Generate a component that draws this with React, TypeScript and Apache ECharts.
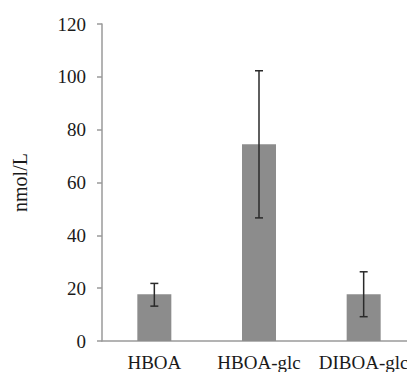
import React, { useEffect, useRef } from "react";
import * as echarts from "echarts";

const categories = ["HBOA", "HBOA-glc", "DIBOA-glc"];
const means = [17.7, 74.5, 17.7];
const errLow = [13.2, 46.6, 9.2];
const errHigh = [21.8, 102.3, 26.2];
const yTicks = { min: 0, max: 120, interval: 20 };

export default function App() {
  const ref = useRef<HTMLDivElement>(null);
  useEffect(() => {
    if (!ref.current) return;
    const chart = echarts.init(ref.current, null, { renderer: "svg" });
    const font = "'Liberation Serif', 'Times New Roman', serif";
    chart.setOption({
      animation: false,
      backgroundColor: "#ffffff",
      grid: { left: 102, top: 24, height: 317, width: 314, outerBoundsMode: "none", containLabel: false },
      xAxis: {
        type: "category",
        data: categories,
        axisLine: { lineStyle: { color: "#9a9a9a", width: 1.5 } },
        axisTick: { show: false },
        axisLabel: {
          color: "#1a1a1a",
          fontFamily: font,
          fontSize: 19,
          margin: 12,
          interval: 0,
          hideOverlap: false,
        },
      },
      yAxis: {
        type: "value",
        min: yTicks.min,
        max: yTicks.max,
        interval: yTicks.interval,
        name: "nmol/L",
        nameLocation: "middle",
        nameRotate: 90,
        nameGap: 72,
        nameTextStyle: { color: "#1a1a1a", fontFamily: font, fontSize: 20 },
        splitLine: { show: false },
        axisLine: { show: true, lineStyle: { color: "#9a9a9a", width: 1.5 } },
        axisTick: { show: true, length: 5, lineStyle: { color: "#9a9a9a", width: 1.5 } },
        axisLabel: { color: "#1a1a1a", fontFamily: font, fontSize: 19, margin: 16 },
      },
      series: [
        {
          type: "bar",
          data: means,
          barWidth: 34,
          itemStyle: { color: "#8c8c8c" },
          z: 2,
        },
        {
          type: "custom",
          z: 3,
          data: categories.map((_, i) => [i, errLow[i], errHigh[i]]),
          renderItem: (params: any, api: any) => {
            const x = api.value(0);
            const lo = api.coord([x, api.value(1)]);
            const hi = api.coord([x, api.value(2)]);
            const hw = 4;
            const style = { stroke: "#2a2a2a", lineWidth: 1.5 };
            return {
              type: "group",
              children: [
                { type: "line", shape: { x1: lo[0], y1: lo[1], x2: hi[0], y2: hi[1] }, style },
                { type: "line", shape: { x1: hi[0] - hw, y1: hi[1], x2: hi[0] + hw, y2: hi[1] }, style },
                { type: "line", shape: { x1: lo[0] - hw, y1: lo[1], x2: lo[0] + hw, y2: lo[1] }, style },
              ],
            };
          },
        },
      ],
    });
    return () => chart.dispose();
  }, []);
  return (
    <div
      ref={ref}
      style={{ position: "absolute", left: 0, top: 0, width: 407, height: 372, overflow: "hidden" }}
    />
  );
}
